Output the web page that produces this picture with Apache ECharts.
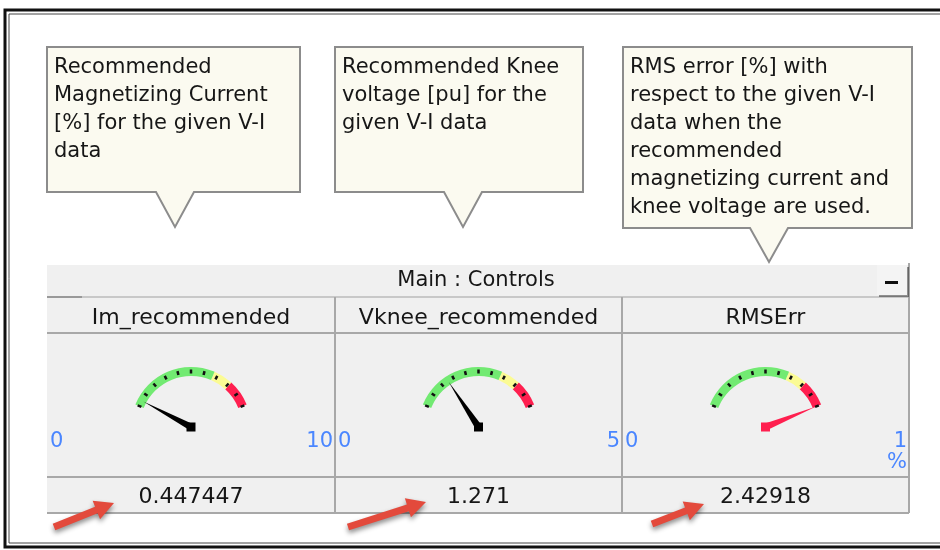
<!DOCTYPE html>
<html>
<head>
<meta charset="utf-8">
<title>Main : Controls</title>
<script src="https://cdn.jsdelivr.net/npm/echarts@6/dist/echarts.min.js"></script>
<style>
  html, body { margin: 0; padding: 0; background: #fff; }
  #chart { width: 940px; height: 550px; }
</style>
</head>
<body>
<div id="chart"></div>
<script>
// meters shown in the control panel
const meterNames = ['Im_recommended', 'Vknee_recommended', 'RMSErr'];
const meterValues = [0.447447, 1.271, 2.42918];
const meterMin = [0, 0, 0];
const meterMax = [10, 5, 1];
const meterUnits = ['', '', '%'];
const panelTitle = 'Main : Controls';
// callout notes above each meter
const calloutLines = [
  ['Recommended', 'Magnetizing Current', '[%] for the given V-I', 'data'],
  ['Recommended Knee', 'voltage [pu] for the', 'given V-I data'],
  ['RMS error [%] with', 'respect to the given V-I', 'data when the', 'recommended',
   'magnetizing current and', 'knee voltage are used.']
];

const FONT = '"DejaVu Sans", Verdana, sans-serif';
const colX = [47, 335, 622, 909];
const rowY = { head: 265, headBot: 297, nameBot: 333, gaugeBot: 477, bottom: 513 };
const boxes = [
  { x0: 47, y0: 47, x1: 300, y1: 192, px: 175, py: 227 },
  { x0: 335, y0: 47, x1: 583, y1: 192, px: 463, py: 227 },
  { x0: 623, y0: 47, x1: 912, y1: 228, px: 769, py: 262 }
];
const arrows = [
  [54, 527, 114, 503],
  [348, 527, 426, 502],
  [652, 524, 704, 504]
];

function txt(text, x, y, opt) {
  opt = opt || {};
  return {
    type: 'text', z: 20,
    style: {
      text: text, x: x, y: y,
      font: (opt.size || 21) + 'px ' + FONT,
      fill: opt.color || '#161616',
      textAlign: opt.align || 'left', align: opt.align || 'left',
      textVerticalAlign: opt.va || 'middle', verticalAlign: opt.va || 'middle',
      lineHeight: opt.lh || 28
    }
  };
}

function arrowShape(x1, y1, x2, y2) {
  const dx = x2 - x1, dy = y2 - y1;
  const L = Math.sqrt(dx * dx + dy * dy);
  const ux = dx / L, uy = dy / L, nx = -uy, ny = ux;
  const w = 3.5, hw = 10, hl = 19;
  const bx = x2 - ux * hl, by = y2 - uy * hl;
  return [
    [x1 + nx * w, y1 + ny * w], [bx + nx * w, by + ny * w], [bx + nx * hw, by + ny * hw],
    [x2, y2], [bx - nx * hw, by - ny * hw], [bx - nx * w, by - ny * w], [x1 - nx * w, y1 - ny * w]
  ];
}

const graphics = [];
// outer window frame
graphics.push({ type: 'rect', z: 1, shape: { x: 5, y: 10, width: 960, height: 537 },
  style: { fill: 'none', stroke: '#111', lineWidth: 3 } });
graphics.push({ type: 'rect', z: 1, shape: { x: 9, y: 14, width: 960, height: 529 },
  style: { fill: 'none', stroke: '#444', lineWidth: 1 } });

// callouts
boxes.forEach(function (b, i) {
  graphics.push({
    type: 'polygon', z: 5,
    shape: { points: [[b.x0, b.y0], [b.x1, b.y0], [b.x1, b.y1], [b.px + 19, b.y1], [b.px, b.py],
      [b.px - 19, b.y1], [b.x0, b.y1]] },
    style: { fill: '#fbfaf0', stroke: '#8c8c8c', lineWidth: 2 }
  });
  graphics.push(txt(calloutLines[i].join('\n'), b.x0 + 7, 54, { va: 'top' }));
});

// panel backgrounds
graphics.push({ type: 'rect', z: 0, shape: { x: colX[0], y: rowY.head, width: colX[3] - colX[0], height: rowY.bottom - rowY.head },
  style: { fill: '#f0f0f0', stroke: 'none' } });
graphics.push(txt(panelTitle, 476, 281, { align: 'center' }));
// minimize button
graphics.push({ type: 'rect', z: 6, shape: { x: 877, y: 265, width: 30, height: 30 },
  style: { fill: '#f4f4f4', stroke: 'none', shadowColor: 'rgba(0,0,0,0.4)', shadowOffsetX: 2, shadowOffsetY: 2 } });
graphics.push({ type: 'rect', z: 7, shape: { x: 885, y: 281, width: 13, height: 3 }, style: { fill: '#111' } });

// grid lines
function hline(y, x0, x1, c) {
  graphics.push({ type: 'line', z: 3, shape: { x1: x0, y1: y, x2: x1, y2: y }, style: { stroke: c || '#a8a8a8', lineWidth: 2 } });
}
function vline(x, y0, y1) {
  graphics.push({ type: 'line', z: 3, shape: { x1: x, y1: y0, x2: x, y2: y1 }, style: { stroke: '#a8a8a8', lineWidth: 2 } });
}
hline(rowY.headBot, colX[0], colX[3], '#c8c8c8');
hline(rowY.headBot, colX[0], 82, '#999');
hline(rowY.nameBot, colX[0], colX[3]);
hline(rowY.gaugeBot, colX[0], colX[3]);
hline(rowY.bottom, colX[0], colX[3]);
vline(colX[1], rowY.headBot, rowY.bottom);
vline(colX[2], rowY.headBot, rowY.bottom);
vline(colX[3], rowY.head - 2, rowY.bottom);

const series = [];
meterNames.forEach(function (name, i) {
  const cx = (colX[i] + colX[i + 1]) / 2;
  graphics.push(txt(name, cx, 318, { align: 'center', size: 22 }));
  graphics.push(txt(String(meterMin[i]), colX[i] + 3, 442, { color: '#4a86ff' }));
  graphics.push(txt(String(meterMax[i]), colX[i + 1] - 2, 442, { color: '#4a86ff', align: 'right' }));
  if (meterUnits[i]) {
    graphics.push(txt(meterUnits[i], colX[i + 1] - 2, 463, { color: '#4a86ff', align: 'right' }));
  }
  const over = meterValues[i] > meterMax[i];
  const needle = over ? '#ff1f4f' : '#000';
  series.push({
    type: 'gauge',
    name: name,
    center: [cx, 427],
    radius: 60,
    startAngle: 158,
    endAngle: 22,
    min: meterMin[i],
    max: meterMax[i],
    splitNumber: 10,
    animation: false,
    axisLine: { lineStyle: { width: 9, color: [[0.67, '#72ea72'], [0.81, '#fbfb94'], [1, '#ff1f4f']] } },
    axisTick: { show: false },
    splitLine: { length: 4, distance: -6.5, lineStyle: { color: '#111', width: 2.5 } },
    axisLabel: { show: false },
    pointer: { icon: 'triangle', length: 54, width: 7, offsetCenter: [0, 0], itemStyle: { color: needle } },
    anchor: { show: true, icon: 'rect', size: 9, itemStyle: { color: needle } },
    title: { show: false },
    detail: { offsetCenter: [0, 70], fontSize: 22, fontFamily: FONT, color: '#161616', fontWeight: 'normal',
      formatter: function (v) { return String(meterValues[i]); } },
    data: [{ value: meterValues[i], name: name }]
  });
});

// red pointer arrows towards the readings
arrows.forEach(function (a) {
  graphics.push({ type: 'polygon', z: 30, shape: { points: arrowShape(a[0], a[1], a[2], a[3]) },
    style: { fill: '#e34a3c', shadowColor: 'rgba(0,0,0,0.45)', shadowBlur: 5, shadowOffsetY: 3 } });
});

const chart = echarts.init(document.getElementById('chart'));
chart.setOption({
  backgroundColor: '#fff',
  animation: false,
  graphic: { elements: graphics },
  series: series
});
</script>
</body>
</html>
